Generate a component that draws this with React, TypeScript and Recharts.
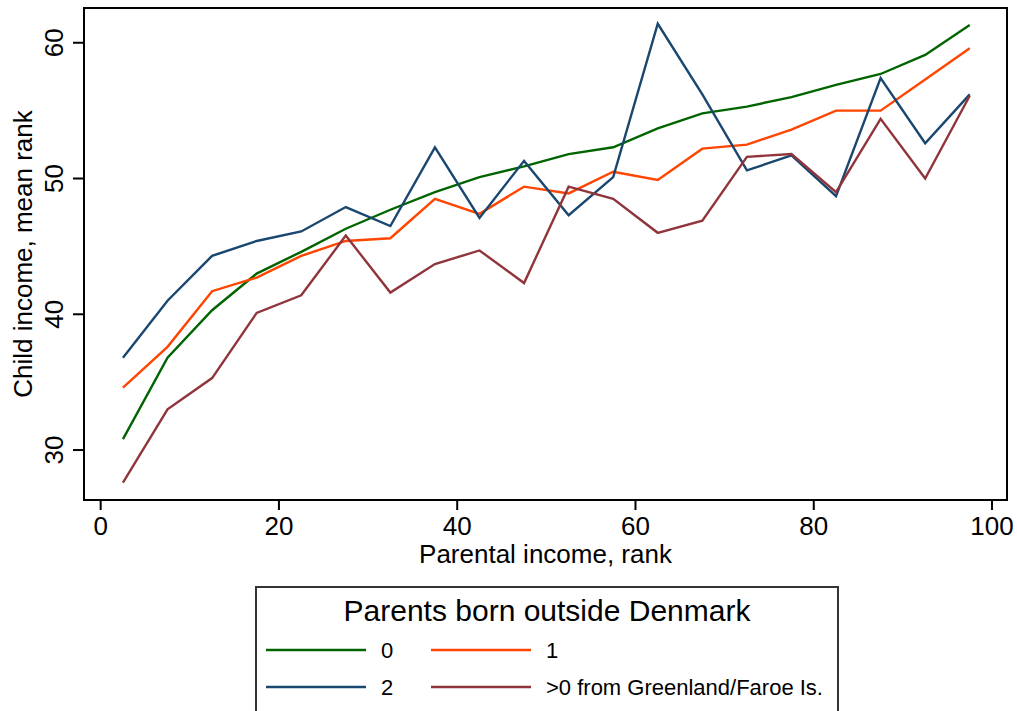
import React from "react";
import { LineChart, Line, XAxis, YAxis, ReferenceArea, Label } from "recharts";

// parental income rank bins (midpoints of 5-point bins)
const ranks = [2.5, 7.5, 12.5, 17.5, 22.5, 27.5, 32.5, 37.5, 42.5, 47.5, 52.5, 57.5, 62.5, 67.5, 72.5, 77.5, 82.5, 87.5, 92.5, 97.5];

// child income mean rank by number of parents born outside Denmark
const noneAbroad = [30.8, 36.8, 40.3, 43.0, 44.6, 46.3, 47.7, 49.0, 50.1, 50.9, 51.8, 52.3, 53.7, 54.8, 55.3, 56.0, 56.9, 57.7, 59.1, 61.3];
const oneAbroad = [34.6, 37.6, 41.7, 42.7, 44.3, 45.4, 45.6, 48.5, 47.4, 49.4, 48.9, 50.5, 49.9, 52.2, 52.5, 53.6, 55.0, 55.0, 57.3, 59.6];
const twoAbroad = [36.8, 41.0, 44.3, 45.4, 46.1, 47.9, 46.5, 52.3, 47.1, 51.3, 47.3, 50.1, 61.4, 56.2, 50.6, 51.7, 48.7, 57.4, 52.6, 56.2];
const greenlandFaroe = [27.6, 33.0, 35.3, 40.1, 41.4, 45.8, 41.6, 43.7, 44.7, 42.3, 49.4, 48.5, 46.0, 46.9, 51.6, 51.8, 49.0, 54.4, 50.0, 56.1];

const xTicks = [0, 20, 40, 60, 80, 100];
const yTicks = [30, 40, 50, 60];

const X_DOMAIN: [number, number] = [-1.87, 101.68];
const Y_DOMAIN: [number, number] = [26.32, 62.56];

const FONT = "'Liberation Sans', Arial, Helvetica, sans-serif";

const series = [
  { key: "g0", name: "0", color: "#006400", values: noneAbroad },
  { key: "g1", name: "1", color: "#ff4500", values: oneAbroad },
  { key: "g2", name: "2", color: "#1a476f", values: twoAbroad },
  { key: "gl", name: ">0 from Greenland/Faroe Is.", color: "#90353b", values: greenlandFaroe },
];

const data = ranks.map((rank, i) => {
  const row: Record<string, number> = { rank };
  series.forEach((s) => {
    row[s.key] = s.values[i];
  });
  return row;
});

// rotated y tick labels, baseline sits next to the tick
const YTick = (props: any) => {
  const { x, y, payload } = props;
  const bx = x - 10;
  return (
    <text
      x={bx}
      y={y}
      transform={`rotate(-90, ${bx}, ${y})`}
      textAnchor="middle"
      fontSize={26}
      fontFamily={FONT}
      fill="#000"
    >
      {payload.value}
    </text>
  );
};

const YTitle = (props: any) => {
  const { x, y, height } = props.viewBox;
  const bx = x + 32;
  const cy = y + height / 2;
  return (
    <text
      x={bx}
      y={cy}
      transform={`rotate(-90, ${bx}, ${cy})`}
      textAnchor="middle"
      fontSize={26}
      fontFamily={FONT}
      fill="#000"
    >
      Child income, mean rank
    </text>
  );
};

const XTitle = (props: any) => {
  const { x, y, width } = props.viewBox;
  return (
    <text x={x + width / 2} y={y + 63} textAnchor="middle" fontSize={26} fontFamily={FONT} fill="#000">
      Parental income, rank
    </text>
  );
};

// legend box below the plot, two columns
function LegendBox() {
  const cols = [266, 431];
  const rows = [650, 687];
  return (
    <svg width={1017} height={711} style={{ position: "absolute", left: 0, top: 0, pointerEvents: "none" }}>
      <rect x={256} y={587} width={582} height={140} fill="#fff" stroke="#333" strokeWidth={2} />
      <text x={547} y={621} textAnchor="middle" fontSize={30} fontFamily={FONT} fill="#000">
        Parents born outside Denmark
      </text>
      {series.map((s, i) => {
        const cx = cols[i % 2];
        const cy = rows[Math.floor(i / 2)];
        return (
          <g key={s.key}>
            <line x1={cx} x2={cx + 100} y1={cy} y2={cy} stroke={s.color} strokeWidth={2.4} />
            <text x={cx + 115} y={cy + 8} fontSize={22} fontFamily={FONT} fill="#000">
              {s.name}
            </text>
          </g>
        );
      })}
    </svg>
  );
}

export default function App() {
  return (
    <div style={{ position: "fixed", left: 0, top: 0, width: 1017, height: 711, background: "#fff" }}>
      <LineChart width={1017} height={711} data={data} margin={{ top: 8, right: 10, left: 0, bottom: 141 }}>
        <XAxis
          dataKey="rank"
          type="number"
          domain={X_DOMAIN}
          ticks={xTicks}
          allowDataOverflow
          height={70}
          tickSize={10}
          tickMargin={7}
          stroke="#000"
          strokeWidth={2}
          tick={{ fontSize: 26, fontFamily: FONT, fill: "#000" }}
        >
          <Label content={<XTitle />} />
        </XAxis>
        <YAxis
          type="number"
          domain={Y_DOMAIN}
          ticks={yTicks}
          allowDataOverflow
          width={84}
          tickSize={11}
          tickMargin={0}
          stroke="#000"
          strokeWidth={2}
          tick={<YTick />}
        >
          <Label content={<YTitle />} />
        </YAxis>
        <ReferenceArea
          x1={X_DOMAIN[0]}
          x2={X_DOMAIN[1]}
          y1={Y_DOMAIN[0]}
          y2={Y_DOMAIN[1]}
          fill="none"
          stroke="#000"
          strokeWidth={2}
        />
        {series.map((s) => (
          <Line
            key={s.key}
            dataKey={s.key}
            name={s.name}
            type="linear"
            stroke={s.color}
            strokeWidth={2.4}
            dot={false}
            activeDot={false}
            isAnimationActive={false}
          />
        ))}
      </LineChart>
      <LegendBox />
    </div>
  );
}
